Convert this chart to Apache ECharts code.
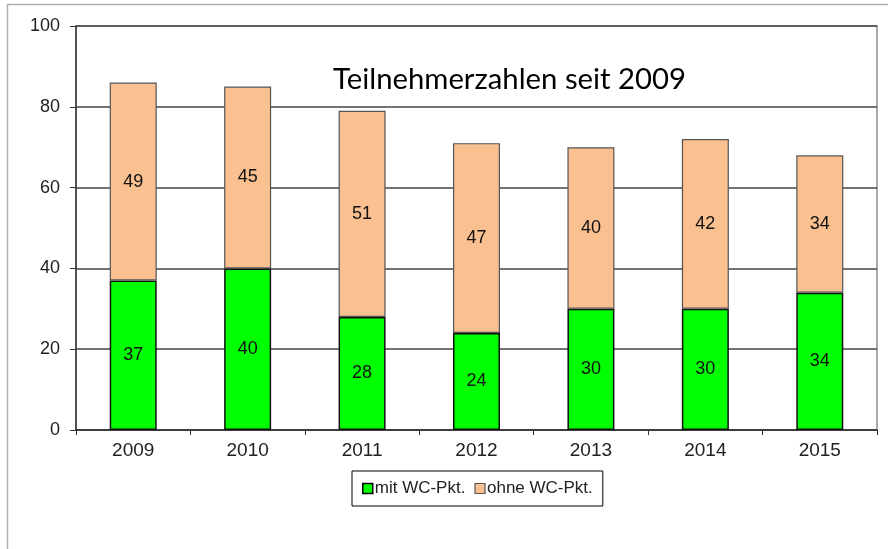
<!DOCTYPE html>
<html><head><meta charset="utf-8">
<script src="https://cdn.jsdelivr.net/npm/echarts@6/dist/echarts.min.js"></script>
<style>html,body{margin:0;padding:0;background:#fff}#c{width:888px;height:549px}</style>
</head><body><div id="c"></div>
<script>
var years = ['2009','2010','2011','2012','2013','2014','2015'];
var mitWC = [37, 40, 28, 24, 30, 30, 34];
var ohneWC = [49, 45, 51, 47, 40, 42, 34];
var titleText = 'Teilnehmerzahlen seit 2009';
var yTicks = [0, 20, 40, 60, 80, 100];

var chart = echarts.init(document.getElementById('c'));
var font = "'Liberation Sans', Arial, sans-serif";
chart.setOption({
  animation: false,
  backgroundColor: '#fff',
  graphic: [{
    type: 'polyline', silent: true,
    shape: { points: [[7.5, 549], [7.5, 4.5], [888, 4.5]] },
    style: { stroke: '#b0b0b0', lineWidth: 1.5, fill: null }
  }],
  title: {
    text: titleText, left: 328, top: 60,
    textStyle: { fontFamily: "Lato, 'Open Sans', sans-serif", fontWeight: 'normal', fontSize: 29.3, color: '#000' }
  },
  legend: {
    left: 352, top: 471,
    padding: [9, 10, 9, 10],
    borderColor: '#000', borderWidth: 1,
    itemWidth: 10, itemHeight: 10, itemGap: 9,
    textStyle: { fontFamily: font, fontSize: 17, color: '#222', padding: [0, 0, 0, -3] },
    data: [
      { name: 'mit WC-Pkt.', icon: 'rect', itemStyle: { borderColor: '#000', borderWidth: 1.5 } },
      { name: 'ohne WC-Pkt.', icon: 'rect', itemStyle: { borderColor: '#555', borderWidth: 1.2 } }
    ]
  },
  grid: { left: 76, right: 11, top: 26, bottom: 119, show: true, borderColor: '#909090', borderWidth: 1.5 },
  xAxis: {
    type: 'category', data: years,
    axisLine: { lineStyle: { color: '#333', width: 1.5 } },
    axisTick: { show: true, alignWithLabel: false, length: 5, lineStyle: { color: '#333' } },
    axisLabel: { fontFamily: font, fontSize: 19, color: '#222', margin: 11 }
  },
  yAxis: {
    type: 'value', min: 0, max: 100, interval: 20,
    axisLine: { show: true, lineStyle: { color: '#333', width: 1.5 } },
    axisTick: { show: true, length: 6, lineStyle: { color: '#333' } },
    axisLabel: { fontFamily: font, fontSize: 18, color: '#222', margin: 16 },
    splitLine: { lineStyle: { color: '#444', width: 1.5 } }
  },
  series: [{
    name: 'mit WC-Pkt.', type: 'bar', stack: 'a', data: mitWC, barWidth: 47,
    itemStyle: { color: '#00ff00', borderColor: '#111', borderWidth: 1.5 },
    label: { show: true, position: 'inside', fontFamily: font, fontSize: 18, color: '#111' }
  }, {
    name: 'ohne WC-Pkt.', type: 'bar', stack: 'a', data: ohneWC, barWidth: 47,
    itemStyle: { color: '#fac090', borderColor: '#555', borderWidth: 1.2 },
    label: { show: true, position: 'inside', fontFamily: font, fontSize: 18, color: '#111' }
  }]
});
</script></body></html>
